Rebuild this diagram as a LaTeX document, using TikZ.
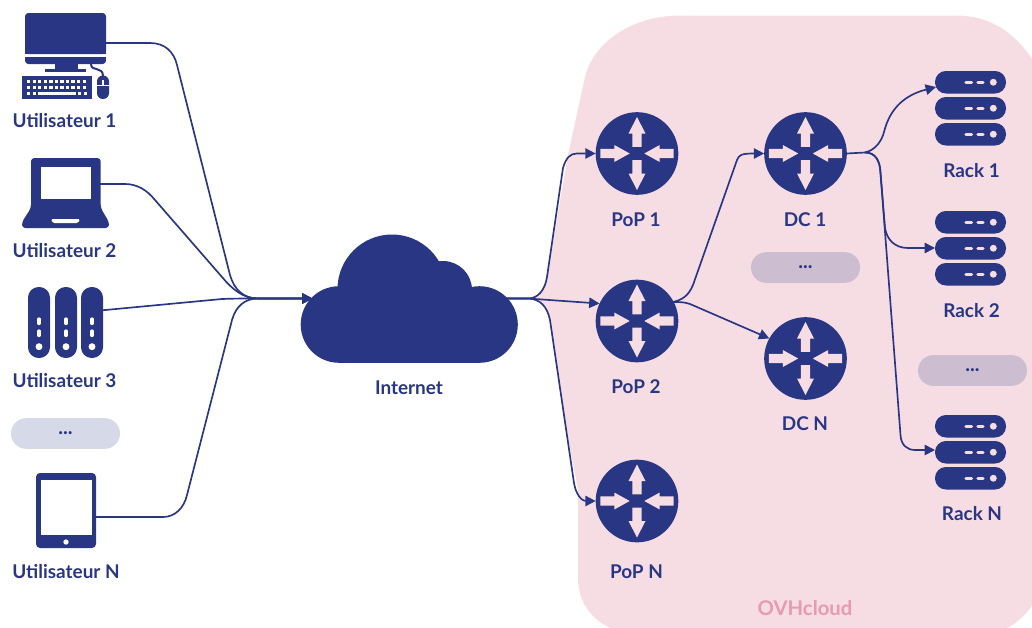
\documentclass[tikz,border=0pt]{standalone}
\usepackage{fontspec}
\setmainfont{Lato}[BoldFont={Lato Bold}]
\usetikzlibrary{arrows.meta}
\definecolor{navy}{HTML}{293683}
\definecolor{blush}{HTML}{F6DDE4}
\definecolor{pinktext}{HTML}{E899B3}
\definecolor{pillblue}{HTML}{D5D9E8}
\definecolor{pillmauve}{HTML}{CDBDD0}
\tikzset{
  lbl/.style={font=\bfseries\fontsize{14.2}{16}\selectfont,text=navy,inner sep=0pt,anchor=center},
  ovh/.style={font=\bfseries\fontsize{15.2}{17}\selectfont,text=pinktext,inner sep=0pt},
  link/.style={draw=navy,line width=1.25pt,line join=round},
  arrowed/.style={link,-{Triangle[length=7.8pt,width=7.8pt]}},
  pill/.style={rounded corners=11.4pt,minimum width=81.75pt,minimum height=23pt,inner sep=0pt,
     font=\bfseries\fontsize{15}{17}\selectfont,text=navy},
  router/.style={circle,fill=navy,minimum size=62pt,inner sep=0pt,outer sep=0pt},
  whitearrow/.style={fill=blush,draw=none},
}
% arrows of a router, around centre #1,#2
\newcommand\routerarrows[2]{%
 \begin{scope}[shift={(#1,#2)}]
  \fill[whitearrow] (0,-36.5) -- (8.5,-20) -- (4.6,-20) -- (4.6,-6.7) -- (-4.6,-6.7) -- (-4.6,-20) -- (-8.5,-20) -- cycle;
  \fill[whitearrow] (0,36.5) -- (8.5,20) -- (4.6,20) -- (4.6,6.7) -- (-4.6,6.7) -- (-4.6,20) -- (-8.5,20) -- cycle;
  \fill[whitearrow] (-7.3,0) -- (-22.7,-8.5) -- (-22.7,-4.6) -- (-36.7,-4.6) -- (-36.7,4.6) -- (-22.7,4.6) -- (-22.7,8.5) -- cycle;
  \fill[whitearrow] (7.3,0) -- (22.7,-8.5) -- (22.7,-4.6) -- (36.7,-4.6) -- (36.7,4.6) -- (22.7,4.6) -- (22.7,8.5) -- cycle;
 \end{scope}}
% one rack: top edge at y = #1
\newcommand\rackbar[1]{%
  \fill[navy,rounded corners=8.2pt] (935,#1) rectangle (1006,#1+22.5);
  \draw[blush,line width=2.6pt,line cap=round] (966,#1+11.25) -- (971.5,#1+11.25);
  \draw[blush,line width=2.6pt,line cap=round] (978,#1+11.25) -- (983,#1+11.25);
  \fill[blush] (993.3,#1+11.25) circle[radius=2.6pt];
}
\newcommand\rackicon[1]{\rackbar{#1}\rackbar{#1+26}\rackbar{#1+52}}
\newcommand\towerbar[1]{%
  \fill[navy,rounded corners=8pt] (#1-11,287) rectangle (#1+11,358);
  \draw[white,line width=2.4pt,line cap=round] (#1,319) -- (#1,323.5);
  \draw[white,line width=2.4pt,line cap=round] (#1,331) -- (#1,335.5);
  \fill[white] (#1,346.7) circle[radius=2.6pt];
}
\begin{document}
\begin{tikzpicture}[x=0.75pt,y=-0.75pt]
\useasboundingbox (0,0) rectangle (1032,628);
\begin{scope}
 \clip (0,0) rectangle (1032,628);
 \fill[blush] (680,15.5) -- (955,15.5) .. controls (990,15.5) and (1018,32) .. (1040,72)
   -- (1040,592) .. controls (1030,612) and (1015,628) .. (995,632)
   -- (622,632) .. controls (595,625) and (578,605) .. (578,578)
   -- (578,490) -- (563,410) -- (550,320) .. controls (546,306) and (540,300) .. (530,298)
   .. controls (540,296) and (545,288) .. (547,277) -- (568,155) -- (585,77)
   .. controls (594,40) and (635,15.5) .. (680,15.5) -- cycle;
\end{scope}

% pills
\node[pill,fill=pillblue] (pillu) at (65.5,433.5) {...};
\node[pill,fill=pillmauve] (pilldc) at (805.5,267.5) {...};
\node[pill,fill=pillmauve] (pillrack) at (972.5,370.5) {...};

% desktop icon
\fill[navy,rounded corners=2.5pt] (25,13) -- (106,13) -- (106,54) -- (25,54) -- cycle;
\fill[navy] (25,50) rectangle (106,54);
\fill[navy,rounded corners=2.5pt] (25,57) -- (106,57) -- (106,64) -- (25,64) -- cycle;
\fill[navy] (25,57) rectangle (106,60);
\fill[navy] (55,64) rectangle (78,69);
\fill[navy] (45,69) rectangle (86,72);
\fill[navy] (22,76) rectangle (92,99);
\foreach \ky in {80,86}{\foreach \kx in {0,...,10}{\fill[white] (27+\kx*5.55,\ky) rectangle +(3.3,3.2);}}
\fill[white] (27,92) rectangle +(3.3,2.7);
\fill[white] (32.5,92) rectangle +(3.3,2.7);
\fill[white] (38,92) rectangle (76,94.7);
\fill[white] (78,92) rectangle +(3.3,2.7);
\fill[white] (83.5,92) rectangle +(3.3,2.7);
\draw[navy,line width=1.5pt] (91,64) .. controls (91,72) and (103,66) .. (103,76);
\fill[navy,rounded corners=4.4pt] (97,75.5) rectangle (109,99);
\draw[white,line width=0.7pt] (97,85.5) -- (109,85.5);
\draw[white,line width=1pt] (103,80) -- (103,85.5);

% laptop icon
\fill[navy,rounded corners=2.5pt] (31,158) -- (100.7,158) -- (100.7,208) -- (109,222) -- (109,228) -- (22,228) -- (22,222) -- (31,208) -- cycle;
\fill[white] (40.7,167) rectangle (90.7,199);
\fill[white,rounded corners=1pt] (51,219) -- (80,219) -- (78,223) -- (53,223) -- cycle;

% tower icon
\towerbar{39}
\towerbar{66}
\towerbar{92}

% tablet icon
\fill[navy,rounded corners=3pt] (36,473) rectangle (96,548);
\fill[white] (41,480) rectangle (91.7,535);
\fill[white] (66,542) circle[radius=2pt];

% cloud
\fill[navy] (339,324.5) circle[radius=38.3];
\fill[navy] (479.5,324.5) circle[radius=38.3];
\fill[navy] (392,289) circle[radius=54.5];
\fill[navy] (443,290) circle[radius=29];
\fill[navy] (339,290) rectangle (479.5,362.8);

% routers
\node[router] (pop1) at (637,153.5) {};
\node[router] (pop2) at (637,321) {};
\node[router] (popn) at (637,501) {};
\node[router] (dc1) at (805.5,153.5) {};
\node[router] (dcn) at (805.5,358.5) {};
\routerarrows{637}{153.5}
\routerarrows{637}{321}
\routerarrows{637}{501}
\routerarrows{805.5}{153.5}
\routerarrows{805.5}{358.5}

% racks
\rackicon{71}
\rackicon{211}
\rackicon{415}

% labels
\node[lbl] (lu1) at (64.5,121) {Utilisateur 1};
\node[lbl] (lu2) at (64.5,251) {Utilisateur 2};
\node[lbl] (lu3) at (64.5,381) {Utilisateur 3};
\node[lbl] (lun) at (66,572) {Utilisateur N};
\node[lbl] (lnet) at (409,388) {Internet};
\node[lbl] (lp1) at (636,220) {PoP 1};
\node[lbl] (lp2) at (636,387) {PoP 2};
\node[lbl] (lpn) at (636.5,572) {PoP N};
\node[lbl] (ld1) at (805,220) {DC 1};
\node[lbl] (ldn) at (805,424) {DC N};
\node[lbl] (lr1) at (971.5,171) {Rack 1};
\node[lbl] (lr2) at (971.5,311) {Rack 2};
\node[lbl] (lrn) at (972,514) {Rack N};
\node[ovh] (lovh) at (805,608.5) {OVHcloud};

% connector ends
\coordinate (u1) at (90,43);
\coordinate (u2) at (98,184);
\coordinate (u3) at (100,310.5);
\coordinate (un) at (96,517);
\coordinate (mergeL) at (258,298.5);
\coordinate (cloudin) at (312.5,298.5);
\coordinate (cloudout) at (455,298.5);
\coordinate (mergeR) at (528,298.5);
\coordinate (pop2out) at (673,302);
\coordinate (dcout) at (865,152.5);
\coordinate (rack1) at (936,87);
\coordinate (rack2) at (935,248);
\coordinate (rackn) at (935,450);

% connectors
\draw[arrowed] (u1) -- (150,43) .. controls (165,43) and (174,52) .. (177,65) -- (230,275) .. controls (234,289) and (243,298.5) .. (mergeL) -- (cloudin);
\draw[arrowed] (u2) -- (125,184) .. controls (137,184) and (147,190) .. (155,200) -- (222,277) .. controls (232,289) and (243,298.5) .. (mergeL) -- (cloudin);
\draw[arrowed] (u3) -- (222,299) .. controls (235,298.5) and (245,298.5) .. (mergeL) -- (cloudin);
\draw[arrowed] (un) -- (163,517) .. controls (175,517) and (184,508) .. (187,495) -- (232,320) .. controls (236,306) and (245,298.5) .. (mergeL) -- (cloudin);

\draw[arrowed] (cloudout) -- (mergeR) .. controls (538,298.5) and (545,290) .. (547,277) -- (563,168) .. controls (566,158) and (570,153.5) .. (577,153.5) -- (pop1.west);
\draw[arrowed] (cloudout) -- (mergeR) -- (pop2.155);
\draw[arrowed] (cloudout) -- (mergeR) .. controls (540,299) and (547,306) .. (550,320) -- (574,483) .. controls (576,495) and (582,501) .. (popn.west);

\draw[arrowed] (pop2out) .. controls (681,300) and (688,297) .. (693,285) -- (737,160) .. controls (739,155) and (741,153.5) .. (dc1.west);
\draw[arrowed] (pop2out) .. controls (680,302) and (684,302) .. (690,304) -- (dcn.151);

\draw[link] (dc1.east) -- (dcout);
\draw[arrowed] (dcout) .. controls (876,150) and (882,140) .. (884,132) .. controls (890,108) and (905,95) .. (rack1);
\draw[arrowed] (dcout) .. controls (875,152.5) and (880,160) .. (880.5,173) -- (885,228) .. controls (887,240) and (895,248) .. (908,248) -- (rack2);
\draw[arrowed] (dcout) .. controls (875,152.5) and (880,160) .. (880.5,173) -- (900.5,435) .. controls (901,445) and (907,450) .. (915,450) -- (rackn);
\end{tikzpicture}
\end{document}
